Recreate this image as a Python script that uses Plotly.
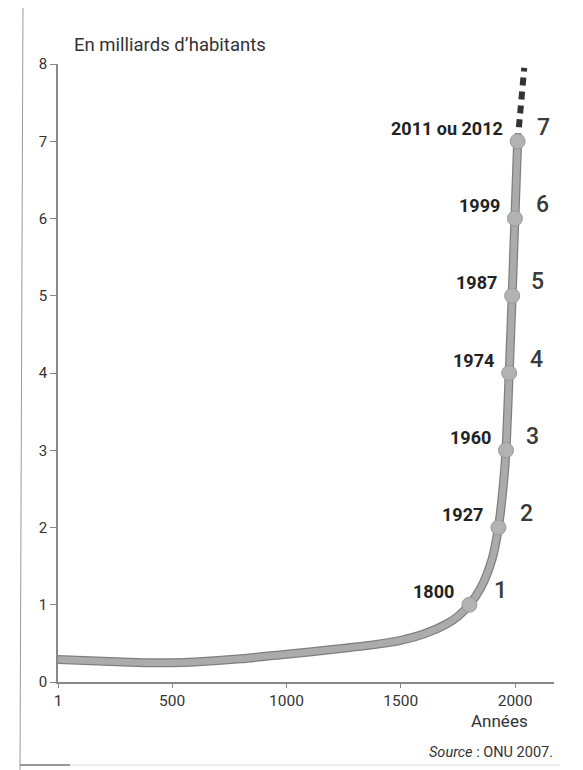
import plotly.graph_objects as go

# Curve (world population, billions)
curve_years = [1, 200, 400, 500, 600, 800, 1000, 1200, 1400, 1500, 1600, 1700, 1750, 1800,
               1850, 1900, 1927, 1950, 1960, 1974, 1987, 1999, 2011]
curve_values = [0.29, 0.27, 0.25, 0.25, 0.26, 0.30, 0.36, 0.42, 0.49, 0.54, 0.62, 0.75, 0.85, 1.0,
                1.22, 1.6, 2.0, 2.6, 3.0, 4.0, 5.0, 6.0, 7.0]

# Milestones
milestone_years = [1800, 1927, 1960, 1974, 1987, 1999, 2011]
milestone_values = [1, 2, 3, 4, 5, 6, 7]
milestone_labels = ["1800", "1927", "1960", "1974", "1987", "1999", "2011 ou 2012"]
milestone_numbers = ["1", "2", "3", "4", "5", "6", "7"]

# Projection
proj_years = [2011, 2040]
proj_values = [7.0, 7.95]

x_ticks = [1, 500, 1000, 1500, 2000]
y_ticks = [0, 1, 2, 3, 4, 5, 6, 7, 8]

FONT = "Roboto, 'DejaVu Sans', sans-serif"

# screen -> paper helpers (page has an 8px body margin)
PL, PT, PW, PH = 58, 64, 496, 618


def px(X):
    return (X - PL) / PW


def py(Y):
    return (PT + PH - Y) / PH


fig = go.Figure()

fig.add_trace(go.Scatter(x=curve_years, y=curve_values, mode="lines",
                         line=dict(color="#7f7f7f", width=9, shape="spline", smoothing=0.8),
                         hoverinfo="skip", showlegend=False))
fig.add_trace(go.Scatter(x=curve_years, y=curve_values, mode="lines",
                         line=dict(color="#ababab", width=6.5, shape="spline", smoothing=0.8),
                         hoverinfo="skip", showlegend=False))
fig.add_trace(go.Scatter(x=proj_years, y=proj_values, mode="lines",
                         line=dict(color="#333333", width=6, dash="8px,6px"),
                         hoverinfo="skip", showlegend=False))
fig.add_trace(go.Scatter(x=milestone_years, y=milestone_values, mode="markers",
                         marker=dict(color="#b2b2b2", size=15, line=dict(color="#9a9a9a", width=1)),
                         hoverinfo="skip", showlegend=False))

num_shift = [23, 20, 18, 19, 17, 19, 17]
annotations = []
for yr, v, lab, num, ns in zip(milestone_years, milestone_values, milestone_labels,
                               milestone_numbers, num_shift):
    annotations.append(dict(x=yr, y=v, text=f"<b>{lab}</b>", showarrow=False,
                            xanchor="right", yanchor="middle", xshift=-13, yshift=13,
                            font=dict(family=FONT, size=18, color="#222222")))
    annotations.append(dict(x=yr, y=v, text=num, showarrow=False,
                            xanchor="left", yanchor="middle", xshift=ns, yshift=14,
                            font=dict(family=FONT, size=23, color="#3a3a3a", weight=500)))

annotations.append(dict(xref="paper", yref="paper", x=px(72), y=py(45),
                        text="En milliards d\u2019habitants", showarrow=False,
                        xanchor="left", yanchor="middle",
                        font=dict(family=FONT, size=18.5, color="#333333")))
annotations.append(dict(xref="paper", yref="paper", x=px(499), y=py(721),
                        text="Années", showarrow=False, xanchor="center", yanchor="middle",
                        font=dict(family=FONT, size=17, color="#333333")))
annotations.append(dict(xref="paper", yref="paper", x=px(555), y=py(752),
                        text="<i>Source</i> : ONU 2007.", showarrow=False,
                        xanchor="right", yanchor="middle",
                        font=dict(family=FONT, size=14.5, color="#333333")))

shapes = [
    dict(type="line", xref="paper", yref="paper", x0=px(23), x1=px(20),
         y0=py(0), y1=py(770), line=dict(color="#9a9a9a", width=1)),
    dict(type="line", xref="paper", yref="paper", x0=px(20), x1=px(70),
         y0=py(765), y1=py(765), line=dict(color="#777777", width=1.5)),
    dict(type="line", xref="paper", yref="paper", x0=px(70), x1=px(560),
         y0=py(765), y1=py(765), line=dict(color="#dddddd", width=1)),
]

fig.update_layout(
    width=583, height=770,
    margin=dict(l=PL - 8, r=583 - (PL - 8) - PW, t=PT - 8, b=770 - (PT - 8) - PH),
    paper_bgcolor="white", plot_bgcolor="white",
    annotations=annotations, shapes=shapes,
    xaxis=dict(range=[1, 2170], tickvals=x_ticks, ticktext=[str(t) for t in x_ticks],
               showgrid=False, zeroline=False, showline=True, linecolor="#888888", linewidth=1.5,
               ticks="outside", ticklen=4, tickcolor="#888888",
               tickfont=dict(family=FONT, size=15.5, color="#333333")),
    yaxis=dict(range=[0, 8], tickvals=y_ticks, showgrid=False, zeroline=False,
               showline=True, linecolor="#888888", linewidth=1.5,
               ticks="outside", ticklen=6, tickcolor="#888888",
               tickfont=dict(family=FONT, size=15, color="#333333")),
)

fig.write_html("out.html")
